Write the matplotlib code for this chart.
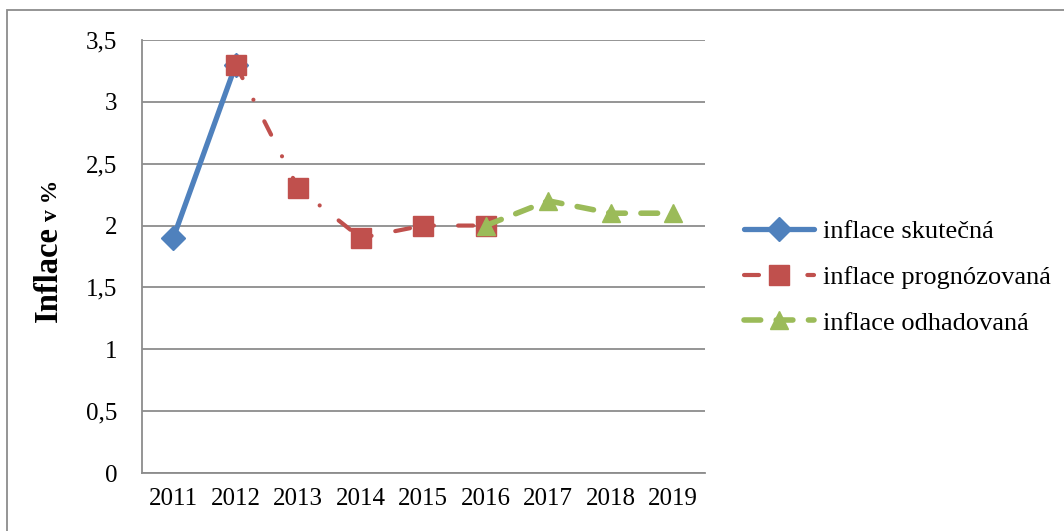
import matplotlib
matplotlib.use("Agg")
import matplotlib.pyplot as plt
from matplotlib.patches import Rectangle

# Data
years = ["2011", "2012", "2013", "2014", "2015", "2016", "2017", "2018", "2019"]
actual_years = ["2011", "2012"]
actual_values = [1.9, 3.3]
forecast_years = ["2012", "2013", "2014", "2015", "2016"]
forecast_values = [3.3, 2.3, 1.9, 2.0, 2.0]
estimate_years = ["2016", "2017", "2018", "2019"]
estimate_values = [2.0, 2.2, 2.1, 2.1]
y_ticks = [0, 0.5, 1, 1.5, 2, 2.5, 3, 3.5]
y_tick_labels = ["0", "0,5", "1", "1,5", "2", "2,5", "3", "3,5"]

plt.rcParams["font.family"] = ["Liberation Serif", "DejaVu Serif"]

W, H = 1064, 531
fig = plt.figure(figsize=(W / 100, H / 100), dpi=100)

# outer chart frame (only top and left edges fall inside the canvas)
fig.patches.append(Rectangle((7 / W, -0.1), 1.2, (H - 10) / H + 0.1,
                             transform=fig.transFigure, fill=False,
                             edgecolor="#8c8c8c", linewidth=1.3))

ax = fig.add_axes([142 / W, (H - 473) / H, 562.5 / W, 433 / H])

idx = {y: i for i, y in enumerate(years)}

blue = "#4F81BD"
red = "#C0504D"
green = "#9BBB59"

ax.plot([idx[y] for y in actual_years], actual_values, color=blue, lw=3.8,
        marker="D", ms=12, solid_capstyle="round", label="inflace skutečná",
        zorder=3)
ax.plot([idx[y] for y in forecast_years], forecast_values, color=red, lw=3.0,
        marker="s", ms=14.5, dashes=[3.6, 5.8, 0.01, 5.8], dash_capstyle="round",
        label="inflace prognózovaná", zorder=4)
ax.plot([idx[y] for y in estimate_years], estimate_values, color=green, lw=4.0,
        marker="^", ms=13, dashes=[3.0, 2.8], dash_capstyle="round",
        label="inflace odhadovaná", zorder=5)

ax.set_xlim(-0.5, len(years) - 0.5)
ax.set_ylim(0, 3.5)
ax.set_xticks(range(len(years)))
ax.set_xticklabels(years, fontsize=18)
ax.set_yticks(y_ticks)
ax.set_yticklabels(y_tick_labels, fontsize=18)
ax.tick_params(axis="both", length=0, colors="black")
ax.tick_params(axis="y", pad=18)
ax.tick_params(axis="x", pad=11)

ax.grid(axis="y", color="#8c8c8c", linewidth=1.3)
ax.set_axisbelow(True)
for s in ["top", "right"]:
    ax.spines[s].set_visible(False)
for s in ["left", "bottom"]:
    ax.spines[s].set_color("#8c8c8c")
    ax.spines[s].set_linewidth(1.3)

# y-axis title in two sizes
fig.text(57 / W, (H - 322) / H, "Inflace", rotation=90, rotation_mode="anchor",
         ha="left", va="baseline", fontsize=23.5, fontweight="bold")
fig.text(57 / W, (H - 221) / H, "v %", rotation=90, rotation_mode="anchor",
         ha="left", va="baseline", fontsize=17, fontweight="bold")

fig.legend(loc="center left", bbox_to_anchor=(731 / W, (H - 277) / H),
           frameon=False, fontsize=19, handlelength=2.65, handletextpad=0.35,
           labelspacing=0.85, borderpad=0)

fig.savefig("out.png", dpi=100)
